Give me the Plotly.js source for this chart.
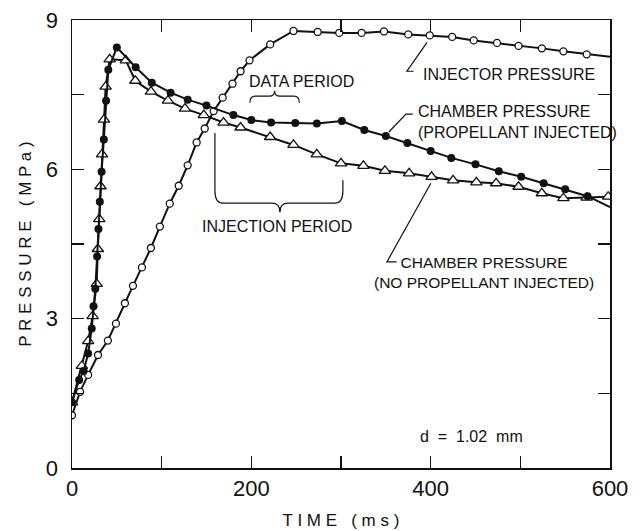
<!DOCTYPE html>
<html>
<head>
<meta charset="utf-8">
<script src="https://cdn.plot.ly/plotly-3.0.1.min.js"></script>
<style>html,body{margin:0;padding:0;background:#fff;}#chart{width:640px;height:531px;}</style>
</head>
<body>
<div id="chart"></div>
<script>
// ---- Data (time in ms, pressure in MPa) ----
const injectorTime = [0, 9, 18, 29, 40, 49, 59, 68, 78, 88, 98, 109, 119, 129, 139, 148, 158, 168, 179, 188, 198, 221, 247, 274, 298, 323, 348, 375, 399, 424, 448, 474, 498, 524, 548, 574, 600];
const injectorPressure = [1.06, 1.53, 1.87, 2.27, 2.56, 2.90, 3.31, 3.66, 4.03, 4.42, 4.85, 5.31, 5.67, 6.08, 6.54, 6.82, 7.17, 7.44, 7.72, 7.97, 8.19, 8.51, 8.78, 8.76, 8.74, 8.74, 8.77, 8.71, 8.69, 8.66, 8.59, 8.54, 8.48, 8.43, 8.37, 8.31, 8.26];

const propTime = [0, 8, 13, 18, 22, 24, 26, 28, 29.5, 31, 33, 35.5, 38, 40.5, 50, 71, 89, 110, 129, 150, 180, 200, 222, 249, 273, 301, 326, 350, 374, 400, 423, 450, 476, 501, 526, 550, 575, 600];
const propPressure = [1.32, 1.77, 1.95, 2.30, 2.80, 3.25, 3.60, 4.25, 4.80, 5.35, 5.95, 6.60, 7.38, 8.00, 8.45, 8.05, 7.74, 7.54, 7.40, 7.28, 7.09, 6.99, 6.94, 6.93, 6.92, 6.97, 6.79, 6.67, 6.53, 6.37, 6.23, 6.10, 5.96, 5.85, 5.72, 5.60, 5.46, 5.24];

const noPropTime = [0, 11, 18, 23, 27.5, 28.8, 30.4, 31.8, 33.5, 35.7, 37.5, 42, 60, 70.6, 88, 107, 126, 147, 169, 188, 221, 247, 273, 300, 325, 349, 376, 401, 425, 451, 473, 498, 524, 548, 574, 598];
const noPropPressure = [1.32, 2.05, 2.55, 3.05, 3.70, 4.40, 5.00, 5.66, 6.30, 7.00, 7.66, 8.21, 8.19, 7.78, 7.56, 7.38, 7.22, 7.09, 6.94, 6.84, 6.65, 6.49, 6.30, 6.12, 6.07, 5.97, 5.92, 5.85, 5.78, 5.74, 5.72, 5.65, 5.52, 5.42, 5.43, 5.45];

const xTickVals = [0, 100, 200, 300, 400, 500, 600];
const xTickText = ["0", "", "200", "", "400", "", "600"];
const yTickVals = [0, 1.5, 3, 4.5, 6, 7.5, 9];
const yTickText = ["0", "", "3", "", "6", "", "9"];

const labelInjector = "INJECTOR PRESSURE";
const labelProp = "CHAMBER PRESSURE<br>(PROPELLANT INJECTED)";
const labelNoProp = "CHAMBER PRESSURE<br>(NO PROPELLANT INJECTED)";
const labelData = "DATA PERIOD";
const labelInjection = "INJECTION PERIOD";
const labelDiam = "d&nbsp;&nbsp;=&nbsp;&nbsp;1.02&nbsp;&nbsp;mm";

// ---- helpers ----
const FONT = "Liberation Sans, Arial, sans-serif";
const black = "#111";

function markersOnly(t, p, limit) {
  const xs = [], ys = [];
  for (let i = 0; i < t.length; i++) { if (t[i] < limit) { xs.push(t[i]); ys.push(p[i]); } }
  return {xs, ys};
}
const injM = markersOnly(injectorTime, injectorPressure, 590);
const propM = markersOnly(propTime, propPressure, 590);

const traces = [
  {x: injectorTime, y: injectorPressure, mode: "lines", line: {color: black, width: 2}, hoverinfo: "skip"},
  {x: injM.xs, y: injM.ys, mode: "markers", marker: {symbol: "circle", size: 7, color: "#fff", line: {color: black, width: 1.3}}},
  {x: noPropTime, y: noPropPressure, mode: "lines+markers", line: {color: black, width: 2},
   marker: {symbol: "triangle-up", size: 10, color: "#fff", line: {color: black, width: 1.3}}},
  {x: propTime, y: propPressure, mode: "lines", line: {color: black, width: 2}, hoverinfo: "skip"},
  {x: propM.xs, y: propM.ys, mode: "markers", marker: {symbol: "circle", size: 8, color: black, line: {width: 0}}}
];

// curly brace path in data coords
function brace(x1, x2, yEnd, yMid, yTip, r) {
  const xm = (x1 + x2) / 2;
  return `M${x1},${yEnd} Q${x1},${yMid} ${x1 + r},${yMid} L${xm - r},${yMid} Q${xm},${yMid} ${xm},${yTip} ` +
         `Q${xm},${yMid} ${xm + r},${yMid} L${x2 - r},${yMid} Q${x2},${yMid} ${x2},${yEnd}`;
}
function injBrace() {
  const x1 = 159.4, x2 = 302.1, xm = 231.9, yL = 6.73, yR = 5.78, yMid = 5.32, yTip = 5.14, r = 9, ry = 0.25;
  return `M${x1},${yL} L${x1},${yMid + ry} Q${x1},${yMid} ${x1 + r},${yMid} L${xm - r},${yMid} Q${xm},${yMid} ${xm},${yTip} ` +
         `Q${xm},${yMid} ${xm + r},${yMid} L${x2 - r},${yMid} Q${x2},${yMid} ${x2},${yMid + ry} L${x2},${yR}`;
}
const lineStyle = {color: black, width: 1.2};
const shapes = [
  {type: "path", xref: "x", yref: "y", path: brace(198.4, 253.5, 7.34, 7.47, 7.58, 6), line: lineStyle},
  {type: "path", xref: "x", yref: "y", path: injBrace(), line: lineStyle},
  {type: "path", xref: "x", yref: "y", path: "M396,8.55 L373.5,7.97 L381,7.97", line: lineStyle},
  {type: "path", xref: "x", yref: "y", path: "M353.4,6.75 L372.4,7.11 L380,7.11", line: lineStyle},
  {type: "path", xref: "x", yref: "y", path: "M400.2,5.72 L351.2,4.14 L362,4.14", line: lineStyle}
];

const annFont = {family: FONT, size: 16, color: black};
const annotations = [
  {x: 256.4, y: 7.77, xref: "x", yref: "y", text: labelData, showarrow: false, font: annFont},
  {x: 228.5, y: 4.85, xref: "x", yref: "y", text: labelInjection, showarrow: false, font: annFont},
  {x: 389, y: 7.91, xref: "x", yref: "y", text: labelInjector, showarrow: false, xanchor: "left", font: annFont},
  {x: 383.5, y: 6.96, xref: "x", yref: "y", text: labelProp, showarrow: false, xanchor: "left", align: "left", font: annFont},
  {x: 459, y: 3.92, xref: "x", yref: "y", text: labelNoProp, showarrow: false, align: "center", font: {family: FONT, size: 15.5, color: black}},
  {x: 446, y: 0.64, xref: "x", yref: "y", text: labelDiam, showarrow: false, font: annFont}
];

const layout = {
  width: 640, height: 531,
  margin: {l: 72, r: 30, t: 20, b: 63},
  paper_bgcolor: "#fff", plot_bgcolor: "#fff",
  showlegend: false,
  font: {family: FONT, color: black},
  xaxis: {
    range: [0, 600], tickvals: xTickVals, ticktext: xTickText,
    ticks: "inside", ticklen: 12, tickwidth: 1.2, tickcolor: black,
    showline: true, linecolor: black, linewidth: 1.5, mirror: "allticks",
    showgrid: false, zeroline: false,
    tickfont: {family: FONT, size: 22, color: black},
    title: {text: "T I M E&nbsp;&nbsp;&nbsp;( m s )", font: {family: FONT, size: 17, color: black}, standoff: 14}
  },
  yaxis: {
    range: [0, 9], tickvals: yTickVals, ticktext: yTickText,
    ticks: "inside", ticklen: 12, tickwidth: 1.2, tickcolor: black,
    showline: true, linecolor: black, linewidth: 1.5, mirror: "allticks",
    showgrid: false, zeroline: false,
    tickfont: {family: FONT, size: 22, color: black},
    ticklabelstandoff: 8,
    title: {text: "P R E S S U R E&nbsp;&nbsp;&nbsp;( M P a )", font: {family: FONT, size: 17, color: black}, standoff: 10}
  },
  shapes: shapes,
  annotations: annotations
};

Plotly.newPlot("chart", traces, layout, {staticPlot: true, displayModeBar: false});
</script>
</body>
</html>
